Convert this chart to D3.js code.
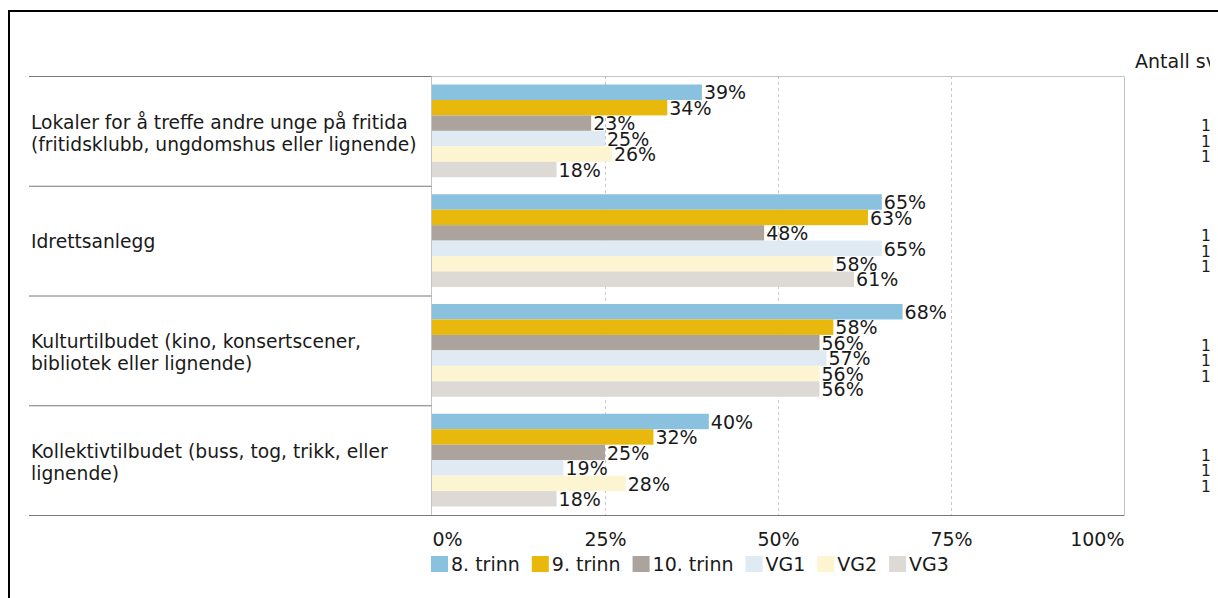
<!DOCTYPE html>
<html>
  <head>
    <meta charset="utf-8">
    <title>Tilbud i nærmiljøet</title>
    <style>
      body { margin: 0; background: #fff; }
      svg { display: block; font-family: "DejaVu Sans", Verdana, sans-serif; }
      .label { fill: #1a1a1a; }
    </style>
  </head>
  <body>
    <div id="chart"></div>
    <script src="https://d3js.org/d3.v7.min.js"></script>
    <script>

    // categories (line breaks as in the original)
    var categories = [
      "Lokaler for å treffe andre unge på fritida\n(fritidsklubb, ungdomshus eller lignende)",
      "Idrettsanlegg",
      "Kulturtilbudet (kino, konsertscener,\nbibliotek eller lignende)",
      "Kollektivtilbudet (buss, tog, trikk, eller\nlignende)"
    ]

    var series = ["8. trinn", "9. trinn", "10. trinn", "VG1", "VG2", "VG3"]
    var colors = ["#89c1de", "#e8b90c", "#aba39c", "#dfeaf3", "#fdf4d2", "#ddd9d5"]

    // percent per category, one array per series
    var trinn8  = [39, 65, 68, 40]
    var trinn9  = [34, 63, 58, 32]
    var trinn10 = [23, 48, 56, 25]
    var vg1     = [25, 65, 57, 19]
    var vg2     = [26, 58, 56, 28]
    var vg3     = [18, 61, 56, 18]

    var tickValues = [0, 25, 50, 75, 100]

    // the respondent column is cut off at the right edge of the original,
    // only these first characters are visible
    var countHeader = "Antall svar"
    var countVisible = ["", "", "1", "1", "1", ""]

    var width = 1218,
        height = 598,
        fontSize = 19

    var seriesValues = [trinn8, trinn9, trinn10, vg1, vg2, vg3]

    var x = d3.scaleLinear().domain([0, 100]).range([432, 1124])
    var y = d3.scaleBand().domain(d3.range(categories.length)).range([76, 515])
    var ySub = d3.scaleBand().domain(d3.range(series.length))
        .range([0, y.bandwidth()]).paddingOuter(0.55)

    var svg = d3.select('#chart').append('svg')
        .attr('width', width)
        .attr('height', height)

    svg.append('defs').append('clipPath').attr('id', 'clipRight')
      .append('rect').attr('x', 0).attr('y', 0).attr('width', 1210).attr('height', height)

    // outer frame (only top and left visible in the original)
    svg.append('path')
      .attr('d', 'M9,' + (height + 5) + 'V11H' + (width + 5))
      .attr('fill', 'none')
      .attr('stroke', '#000')
      .attr('stroke-width', 2)

    // grid
    svg.append('g').selectAll('line').data(tickValues.slice(1, -1)).enter()
      .append('line')
      .attr('x1', function(d) { return x(d) + 0.5 })
      .attr('x2', function(d) { return x(d) + 0.5 })
      .attr('y1', y.range()[0])
      .attr('y2', y.range()[1])
      .attr('stroke', '#c8c8c8')
      .attr('stroke-dasharray', '3,3')

    // plot box
    svg.append('path')
      .attr('d', 'M' + (x(0) - 0.5) + ',' + y.range()[1] + 'V' + (y.range()[0] + 0.5) +
                 'H' + (x(100) + 0.5) + 'V' + y.range()[1])
      .attr('fill', 'none')
      .attr('stroke', '#c4c4c4')

    // category separators in the label column
    svg.append('g').selectAll('line').data(d3.range(categories.length)).enter()
      .append('line')
      .attr('x1', 29).attr('x2', x(0) - 0.5)
      .attr('y1', function(d) { return y(d) + 0.5 })
      .attr('y2', function(d) { return y(d) + 0.5 })
      .attr('stroke', '#7a7a7a')

    svg.append('line')
      .attr('x1', 29).attr('x2', x(100) + 0.5)
      .attr('y1', y.range()[1] + 0.5).attr('y2', y.range()[1] + 0.5)
      .attr('stroke', '#7a7a7a')

    // category labels
    var catText = svg.append('g').selectAll('text').data(categories).enter()
      .append('text')
      .attr('class', 'label')
      .attr('font-size', 18.7)
      .attr('x', 31)
      .attr('y', function(d, i) {
        var n = d.split('\n').length
        return y(i) + y.bandwidth() / 2 + 7 - (n - 1) * 11 + (n > 1 ? 2 : 0)
      })
    catText.selectAll('tspan').data(function(d) { return d.split('\n') }).enter()
      .append('tspan')
      .attr('x', 31)
      .attr('dy', function(d, i) { return i === 0 ? 0 : 22 })
      .text(function(d) { return d })

    // bars
    var groups = svg.append('g').selectAll('g').data(categories).enter()
      .append('g')
      .attr('transform', function(d, i) { return 'translate(0,' + y(i) + ')' })

    groups.selectAll('rect')
      .data(function(d, ci) {
        return seriesValues.map(function(s, si) { return { s: si, v: s[ci] } })
      })
      .enter().append('rect')
      .attr('x', x(0))
      .attr('y', function(d) { return ySub(d.s) })
      .attr('width', function(d) { return x(d.v) - x(0) })
      .attr('height', ySub.bandwidth())
      .attr('fill', function(d) { return colors[d.s] })

    groups.selectAll('text.val')
      .data(function(d, ci) {
        return seriesValues.map(function(s, si) { return { s: si, v: s[ci] } })
      })
      .enter().append('text')
      .attr('class', 'val label')
      .attr('font-size', fontSize)
      .attr('x', function(d) { return x(d.v) + 2 })
      .attr('y', function(d) { return ySub(d.s) + ySub.bandwidth() - 0.5 })
      .text(function(d) { return d.v + '%' })

    // respondent column (cut off)
    var right = svg.append('g').attr('clip-path', 'url(#clipRight)')
    right.append('text')
      .attr('class', 'label')
      .attr('font-size', fontSize)
      .attr('x', 1135).attr('y', 68)
      .text(countHeader)

    groups.each(function() {
      d3.select(this).append('g').attr('clip-path', 'url(#clipRight)')
        .selectAll('text').data(countVisible).enter()
        .append('text')
        .attr('class', 'label')
        .attr('font-size', 15.5)
        .attr('x', 1201)
        .attr('y', function(d, i) { return ySub(i) + ySub.bandwidth() + 0.5 })
        .text(function(d) { return d })
    })

    // x axis
    var axis = svg.append('g')
      .attr('transform', 'translate(0,' + y.range()[1] + ')')
      .call(d3.axisBottom(x).tickValues(tickValues).tickSize(0).tickPadding(18)
        .tickFormat(function(d) { return d + '%' }))
    axis.select('.domain').remove()
    axis.selectAll('text')
      .attr('font-size', fontSize)
      .attr('font-family', '"DejaVu Sans", Verdana, sans-serif')
      .attr('fill', '#1a1a1a')
      .attr('text-anchor', function(d, i) {
        return i === 0 ? 'start' : (i === tickValues.length - 1 ? 'end' : 'middle')
      })

    // legend
    var legend = svg.append('g').attr('transform', 'translate(431,556)')
    var lx = 0
    series.forEach(function(name, i) {
      legend.append('rect')
        .attr('x', lx).attr('y', 0)
        .attr('width', 17).attr('height', 16)
        .attr('fill', colors[i])
      var t = legend.append('text')
        .attr('class', 'label')
        .attr('font-size', fontSize)
        .attr('x', lx + 20).attr('y', 14.5)
        .text(name)
      lx += 20 + t.node().getComputedTextLength() + 12
    })

    </script>
  </body>
</html>
